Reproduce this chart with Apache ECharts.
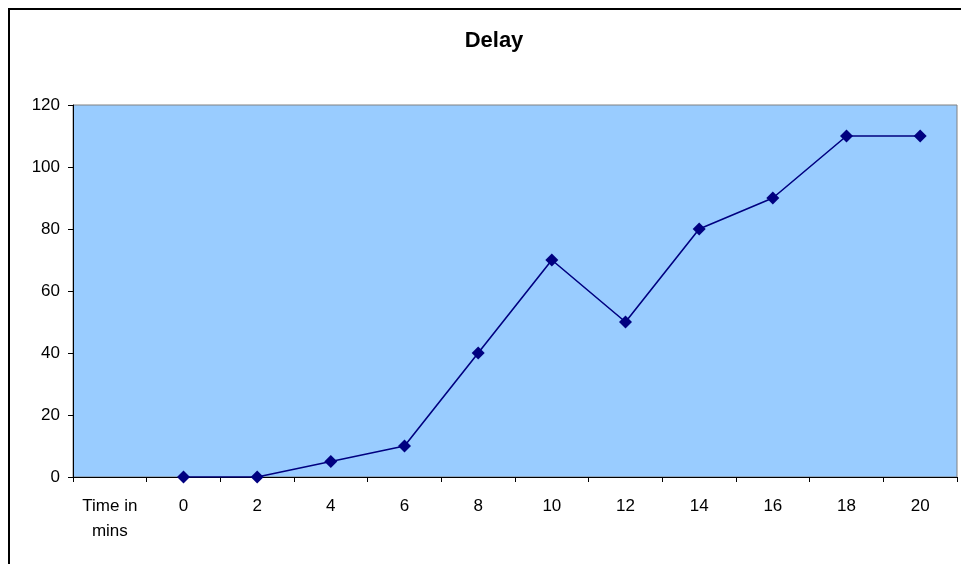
<!DOCTYPE html>
<html>
<head>
<meta charset="utf-8">
<script src="https://cdn.jsdelivr.net/npm/echarts@6/dist/echarts.min.js"></script>
<style>
  html, body { margin: 0; padding: 0; background: #ffffff; }
  #chart { width: 961px; height: 564px; }
</style>
</head>
<body>
<div id="chart"></div>
<script>
// Category labels along the time axis (first slot is the axis caption)
const categories = ['Time in\nmins', '0', '2', '4', '6', '8', '10', '12', '14', '16', '18', '20'];
// Delay readings per time step; caption slot has no value
const delayValues = ['-', 0, 0, 5, 10, 40, 70, 50, 80, 90, 110, 110];
const yTicks = { min: 0, max: 120, interval: 20 };

const chart = echarts.init(document.getElementById('chart'), null, { renderer: 'canvas' });

const font = 'Liberation Sans, Arial, sans-serif';

chart.setOption({
  animation: false,
  backgroundColor: '#ffffff',
  title: {
    text: 'Delay',
    left: 489,
    textAlign: 'center',
    top: 25,
    textStyle: { fontFamily: font, fontSize: 22, fontWeight: 'bold', color: '#000000' }
  },
  graphic: [{
    type: 'rect',
    shape: { x: 9, y: 9, width: 1000, height: 600 },
    style: { fill: 'none', stroke: '#000000', lineWidth: 2 },
    silent: true,
    z: 100
  }],
  grid: {
    left: 73, top: 105, right: 4, bottom: 87,
    show: true,
    backgroundColor: '#99CCFF',
    borderColor: '#808080',
    borderWidth: 1
  },
  xAxis: {
    type: 'category',
    data: categories,
    boundaryGap: true,
    axisLine: { lineStyle: { color: '#000000', width: 1 } },
    axisTick: { show: true, interval: 0, length: 5, lineStyle: { color: '#000000' } },
    axisLabel: {
      interval: 0, margin: 17,
      fontFamily: font, fontSize: 17, color: '#000000', lineHeight: 25
    },
    splitLine: { show: false }
  },
  yAxis: {
    type: 'value',
    min: yTicks.min, max: yTicks.max, interval: yTicks.interval,
    axisLine: { show: true, lineStyle: { color: '#000000', width: 1 } },
    axisTick: { show: true, length: 5, lineStyle: { color: '#000000' } },
    axisLabel: { margin: 13, fontFamily: font, fontSize: 17, color: '#000000' },
    splitLine: { show: false }
  },
  series: [{
    type: 'line',
    data: delayValues,
    symbol: 'diamond',
    symbolSize: 13,
    connectNulls: false,
    lineStyle: { color: '#000080', width: 1.6 },
    itemStyle: { color: '#000080' }
  }]
});
</script>
</body>
</html>
